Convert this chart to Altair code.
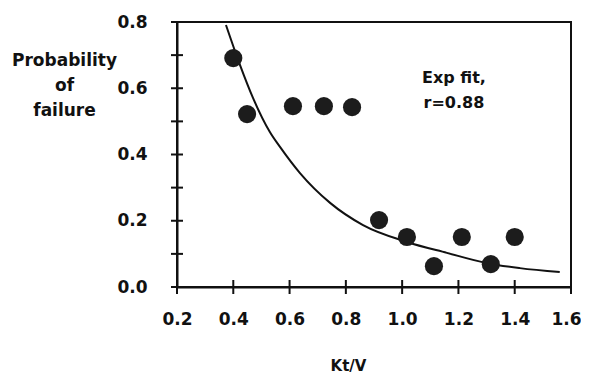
import altair as alt
import pandas as pd

# observed points
kt_v = [0.40, 0.449, 0.612, 0.722, 0.822, 0.918, 1.017, 1.113, 1.212, 1.315, 1.40]
p_fail = [0.691, 0.522, 0.546, 0.546, 0.543, 0.202, 0.151, 0.063, 0.151, 0.069, 0.151]

# exponential fit curve
fit_x = [0.374, 0.424, 0.470, 0.530, 0.566, 0.637, 0.744, 0.861, 1.017, 1.159, 1.301, 1.418, 1.560]
fit_y = [0.791, 0.670, 0.571, 0.468, 0.423, 0.344, 0.254, 0.187, 0.136, 0.103, 0.072, 0.057, 0.045]

x_ticks = [0.2, 0.4, 0.6, 0.8, 1.0, 1.2, 1.4, 1.6]
y_ticks = [0.0, 0.2, 0.4, 0.6, 0.8]
y_minor = [0.0, 0.1, 0.2, 0.3, 0.4, 0.5, 0.6, 0.7, 0.8]

pts = pd.DataFrame({"x": kt_v, "y": p_fail})
fit = pd.DataFrame({"x": fit_x, "y": fit_y})
xt = pd.DataFrame({"x": x_ticks})
yt = pd.DataFrame({"y": y_minor})

FONT = "DejaVu Sans"
INK = "#111"
W, H = 394, 265

xscale = alt.Scale(domain=[0.2, 1.6], nice=False, zero=False)
yscale = alt.Scale(domain=[0.0, 0.8], nice=False, zero=False)

last_test = "datum.value >= 1.59"
xaxis = alt.Axis(values=x_ticks, format=".1f", ticks=False, grid=False,
                 labelPadding=24, labelFontSize=17, labelFontWeight="bold", labelFont=FONT,
                 labelColor=INK, domainColor=INK, domainWidth=2,
                 labelAlign={"condition": {"test": last_test, "value": "right"}, "value": "center"},
                 labelOffset={"condition": {"test": last_test, "value": 10}, "value": 0},
                 title="Kt/V", titleFont=FONT, titleFontSize=15, titleFontWeight="bold",
                 titleColor=INK, titleX=171, titleY=78, titleBaseline="middle", titleAlign="center",
                 labelFlush=False, labelOverlap=False)
yaxis = alt.Axis(values=y_ticks, format=".1f", ticks=False, grid=False,
                 labelPadding=30, labelFontSize=17, labelFontWeight="bold", labelFont=FONT,
                 labelColor=INK, domainColor=INK, domainWidth=2,
                 title=["Probability", "of", "failure"], titleFont=FONT, titleFontSize=17,
                 titleFontWeight="bold", titleColor=INK, titleAngle=0, titleX=-113, titleY=38,
                 titleBaseline="middle", titleAlign="center", titleLineHeight=25,
                 labelFlush=False, labelOverlap=False)

curve = alt.Chart(fit).mark_line(color=INK, strokeWidth=2, interpolate="monotone").encode(
    x=alt.X("x:Q", scale=xscale, axis=xaxis),
    y=alt.Y("y:Q", scale=yscale, axis=yaxis),
)

dots = alt.Chart(pts).mark_circle(size=330, color="#1c1c1c", opacity=1).encode(
    x=alt.X("x:Q", scale=xscale),
    y=alt.Y("y:Q", scale=yscale),
)

xticks = alt.Chart(xt).mark_rule(color=INK, strokeWidth=2).encode(
    x=alt.X("x:Q", scale=xscale),
    y=alt.value(H - 7),
    y2=alt.value(H + 7),
)

yticks = alt.Chart(yt).mark_rule(color=INK, strokeWidth=2).encode(
    y=alt.Y("y:Q", scale=yscale),
    x=alt.value(-6),
    x2=alt.value(6),
)

note = alt.Chart(pd.DataFrame({"t": ["Exp fit,\nr=0.88"]})).mark_text(
    font=FONT, fontSize=16, fontWeight="bold", color=INK, align="center",
    baseline="middle", lineBreak="\n", lineHeight=25,
).encode(
    x=alt.datum(1.184, scale=xscale),
    y=alt.datum(0.631, scale=yscale),
    text="t:N",
)

chart = alt.layer(curve, dots, xticks, yticks, note).properties(
    width=W, height=H,
    autosize=alt.AutoSizeParams(type="none"),
    padding={"left": 169, "top": 14, "right": 10, "bottom": 86},
).configure(background="white").configure_view(stroke=INK, strokeWidth=2)

chart.save("out.html", embed_options={"renderer": "svg", "actions": False})
